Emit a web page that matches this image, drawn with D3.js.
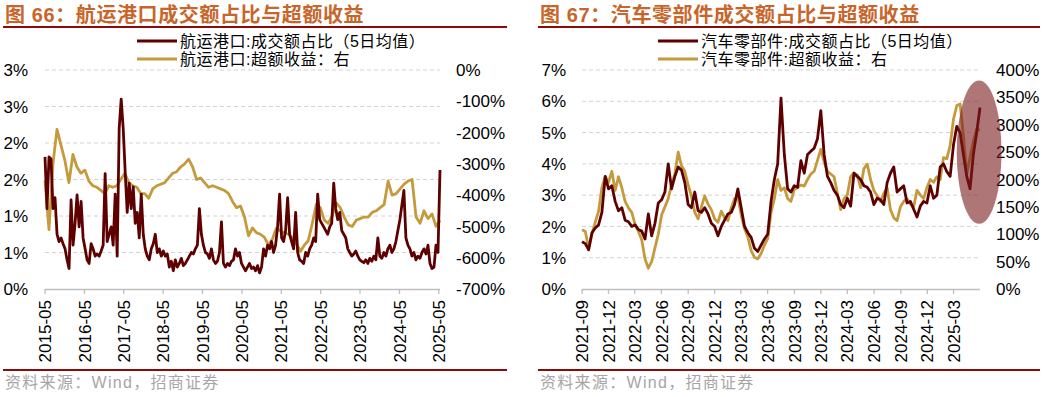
<!DOCTYPE html>
<html><head><meta charset="utf-8">
<script src="https://cdn.jsdelivr.net/npm/d3@7/dist/d3.min.js"></script>
<style>body{margin:0;background:#fff;} svg{display:block;}</style>
</head><body>
<svg id="chart" width="1060" height="397"></svg>
<script>
// ---------------- DATA ----------------
// Panel 1: shipping & ports
const shipTitle = "图 66：航运港口成交额占比与超额收益";
const shipLegend = ["航运港口:成交额占比（5日均值）", "航运港口:超额收益：右"];
const shipStart = "2015-05-01";
const shipEnd = "2025-05-12";
const shipXTickLabels = ["2015-05","2016-05","2017-05","2018-05","2019-05","2020-05","2021-05","2022-05","2023-05","2024-05","2025-05"];
const shipLeftTicks = [0, 0.5, 1, 1.5, 2, 2.5, 3];
const shipLeftTickLabels = ["0%","1%","1%","2%","2%","3%","3%"];
const shipRightTicks = [0, -100, -200, -300, -400, -500, -600, -700];
const shipRightTickLabels = ["0%","-100%","-200%","-300%","-400%","-500%","-600%","-700%"];
// turnover share (%), evenly spaced samples from shipStart to shipEnd
const shipTurnover = [
1.81,1.10,1.81,1.78,1.10,1.25,0.75,0.65,0.70,0.62,
0.55,0.40,0.28,1.22,0.60,0.90,1.29,0.85,1.20,0.70,
0.55,0.40,0.35,0.62,0.55,0.45,0.48,0.45,0.52,0.60,
1.58,0.65,0.75,0.85,0.60,1.30,0.45,2.20,2.60,2.20,
1.60,1.05,1.45,1.10,1.40,0.90,1.05,0.70,1.30,0.75,
0.55,0.45,0.40,0.55,0.62,0.75,0.50,0.55,0.45,0.52,
0.45,0.48,0.30,0.38,0.25,0.40,0.30,0.35,0.42,0.32,
0.35,0.40,0.45,0.50,0.48,0.55,0.60,1.10,0.75,0.60,
0.50,0.48,0.42,0.55,0.40,0.35,0.38,0.50,0.92,0.35,
0.30,0.35,0.32,0.38,0.40,0.55,0.45,0.50,0.35,0.30,
0.25,0.30,0.35,0.28,0.30,0.25,0.32,0.22,0.30,0.55,
0.45,0.60,0.55,0.65,0.50,0.60,0.85,1.30,0.70,0.65,
0.80,1.25,0.75,0.65,0.55,1.05,0.50,0.40,0.38,0.35,
0.50,0.45,0.55,0.60,0.70,0.65,1.30,0.95,0.90,0.85,
0.80,0.75,0.85,0.90,1.45,1.10,0.95,1.05,0.80,0.75,
0.70,0.55,0.50,0.45,0.48,0.52,0.45,0.40,0.38,0.36,
0.40,0.35,0.42,0.38,0.45,0.40,0.70,0.45,0.42,0.50,
0.45,0.55,0.60,0.50,0.55,0.65,0.80,0.95,1.15,1.35,
0.70,0.60,0.55,0.45,0.50,0.40,0.45,0.42,0.50,0.55,
0.48,0.60,0.35,0.28,0.30,0.60,0.50,1.63];
// excess return (%), right axis
const shipExcess = [
-353,-510,-300,-190,-240,-290,-360,-270,-310,-330,
-320,-355,-370,-375,-385,-395,-370,-375,-370,-350,
-330,-360,-370,-375,-395,-395,-410,-380,-370,-365,
-360,-345,-330,-325,-310,-300,-285,-310,-350,-345,
-360,-375,-370,-375,-380,-385,-395,-420,-440,-435,
-470,-530,-505,-520,-525,-535,-560,-540,-505,-515,
-520,-525,-535,-555,-580,-560,-545,-490,-430,-440,
-480,-490,-465,-425,-440,-470,-495,-500,-480,-475,
-470,-470,-455,-450,-440,-430,-355,-400,-395,-380,
-365,-355,-350,-470,-490,-450,-475,-460,-500,-480];

// Panel 2: auto parts
const autoTitle = "图 67：汽车零部件成交额占比与超额收益";
const autoLegend = ["汽车零部件:成交额占比（5日均值）", "汽车零部件:超额收益：右"];
const autoStart = "2021-09-01";
const autoEnd = "2025-05-31";
const autoXTickLabels = ["2021-09","2021-12","2022-03","2022-06","2022-09","2022-12","2023-03","2023-06","2023-09","2023-12","2024-03","2024-06","2024-09","2024-12","2025-03"];
const autoLeftTicks = [0,1,2,3,4,5,6,7];
const autoLeftTickLabels = ["0%","1%","2%","3%","4%","5%","6%","7%"];
const autoRightTicks = [0,50,100,150,200,250,300,350,400];
const autoRightTickLabels = ["0%","50%","100%","150%","200%","250%","300%","350%","400%"];
const autoTurnover = [
1.51,1.45,1.25,1.80,1.95,2.05,2.45,3.60,3.20,3.30,
2.80,2.50,2.60,2.20,2.15,2.00,2.05,1.90,1.85,1.60,
2.40,1.70,2.10,2.75,2.85,3.10,4.00,3.20,3.60,3.90,
3.80,3.40,2.70,2.60,3.10,2.50,2.45,2.60,2.40,2.10,
2.00,1.70,2.00,2.20,2.40,2.45,2.70,3.20,2.60,2.00,
1.80,1.65,1.30,1.20,1.40,1.60,1.75,2.80,3.50,4.00,
6.10,4.30,3.20,3.10,3.30,3.25,4.10,3.70,4.30,4.40,
4.50,4.80,5.70,4.30,3.60,3.40,3.15,3.00,2.70,2.60,
2.90,2.65,3.70,3.60,3.50,3.30,3.25,3.10,2.70,2.90,
2.85,2.70,3.40,3.70,3.90,3.10,3.20,3.30,2.75,2.80,
2.55,2.30,2.65,2.80,2.75,3.30,2.90,3.00,3.90,4.00,
3.75,3.60,4.60,5.20,5.00,4.30,3.60,3.20,4.30,5.00,5.80];
const autoExcess = [
108,105,75,100,122,142,185,205,195,215,
180,205,185,160,148,140,118,105,90,55,
38,50,75,100,135,150,165,190,210,250,
225,215,190,170,140,128,150,170,155,145,
128,122,142,130,125,148,165,168,135,110,
95,70,58,55,65,80,92,140,165,200,
180,185,165,160,182,185,190,188,200,210,
215,235,255,232,215,210,205,175,145,165,
172,205,212,208,185,220,228,200,180,170,
160,175,185,145,130,125,150,160,165,155,
150,180,172,165,185,200,195,205,200,240,
238,262,310,335,338,280,210,240,270,292,290];
// highlight annotation (date range & right-axis range)
const autoHighlight = {from: "2025-03-12", to: "2025-08-13", low: 119, high: 381};

// ---------------- DRAW ----------------
const svg = d3.select("#chart");
const C = {
  title: "#C8652A", rule: "#8B0A0A", red: "#5E0000", gold: "#C49A3C",
  grid: "#D3D3D3", axis: "#BFBFBF", text: "#000", src: "#A6A6A6"
};
const LATIN = "'Liberation Sans', Arial, 'Noto Sans CJK SC', sans-serif";
const parseDay = d3.timeParse("%Y-%m-%d");
const parseMonth = d3.timeParse("%Y-%m");

function evenDates(start, end, n) {
  const a = parseDay(start).getTime(), b = parseDay(end).getTime();
  return d3.range(n).map(i => new Date(a + (b - a) * i / (n - 1)));
}

function panel(o) {
  const g = svg.append("g");
  // title
  g.append("text").attr("x", o.ox + 5).attr("y", 22)
    .attr("font-family", LATIN).attr("font-weight", "bold")
    .attr("font-size", 20).attr("letter-spacing", 0.6)
    .attr("fill", C.title).text(o.title);
  g.append("line").attr("x1", o.ox + 3).attr("x2", o.ox + o.ruleW)
    .attr("y1", 27).attr("y2", 27).attr("stroke", C.rule).attr("stroke-width", 2);
  g.append("line").attr("x1", o.ox + 3).attr("x2", o.ox + o.ruleW)
    .attr("y1", 370).attr("y2", 370).attr("stroke", C.rule).attr("stroke-width", 2);
  g.append("text").attr("x", o.ox + 5).attr("y", 388)
    .attr("font-family", LATIN).attr("font-size", 16).attr("letter-spacing", 1.3)
    .attr("fill", C.src).text("资料来源：Wind，招商证券");

  const x = d3.scaleTime().domain([parseDay(o.start), parseDay(o.end)]).range([o.x0, o.x1]);
  const yL = d3.scaleLinear().domain(d3.extent(o.leftTicks)).range([289, 70]);
  const yR = d3.scaleLinear().domain(d3.extent(o.rightTicks)).range([289, 70]);

  // grid
  g.append("g").selectAll("line").data(o.leftTicks.filter(t => t !== 0)).join("line")
    .attr("x1", o.x0).attr("x2", o.x1)
    .attr("y1", d => yL(d)).attr("y2", d => yL(d))
    .attr("stroke", C.grid).attr("stroke-dasharray", "4,3").attr("stroke-width", 1);
  // x axis line
  g.append("line").attr("x1", o.x0).attr("x2", o.x1).attr("y1", 289.5).attr("y2", 289.5)
    .attr("stroke", C.axis).attr("stroke-width", 1.3);
  const xt = o.xTicks.map(s => parseMonth(s));
  g.append("g").selectAll("line").data(xt).join("line")
    .attr("x1", d => x(d)).attr("x2", d => x(d)).attr("y1", 289).attr("y2", 294)
    .attr("stroke", C.axis).attr("stroke-width", 1.3);
  g.append("g").selectAll("text").data(o.xTicks).join("text")
    .attr("transform", d => `translate(${x(parseMonth(d))},300) rotate(-90)`)
    .attr("text-anchor", "end").attr("dy", "0.36em")
    .attr("font-family", LATIN).attr("font-size", 17).attr("fill", C.text)
    .text(d => d);
  // y labels
  g.append("g").selectAll("text").data(o.leftTicks).join("text")
    .attr("x", o.lx).attr("y", d => yL(d)).attr("dy", "0.36em").attr("text-anchor", "end")
    .attr("font-family", LATIN).attr("font-size", 17).attr("fill", C.text)
    .text((d, i) => o.leftLabels[i]);
  g.append("g").selectAll("text").data(o.rightTicks).join("text")
    .attr("x", o.rx).attr("y", d => yR(d)).attr("dy", "0.36em").attr("text-anchor", "start")
    .attr("font-family", LATIN).attr("font-size", 17).attr("fill", C.text)
    .text((d, i) => o.rightLabels[i]);

  // lines
  const d1 = evenDates(o.start, o.end, o.turnover.length);
  const d2 = evenDates(o.start, o.end, o.excess.length);
  g.append("path").datum(o.excess.map((v, i) => [d2[i], v]))
    .attr("fill", "none").attr("stroke", C.gold).attr("stroke-width", 2.8).attr("stroke-linejoin", "round")
    .attr("d", d3.line().x(d => x(d[0])).y(d => yR(d[1])));
  g.append("path").datum(o.turnover.map((v, i) => [d1[i], v]))
    .attr("fill", "none").attr("stroke", C.red).attr("stroke-width", 2.8).attr("stroke-linejoin", "round")
    .attr("d", d3.line().x(d => x(d[0])).y(d => yL(d[1])));

  // legend
  o.legend.forEach((txt, i) => {
    const ly = 41 + i * 18;
    g.append("line").attr("x1", o.legX).attr("x2", o.legX + 40).attr("y1", ly).attr("y2", ly)
      .attr("stroke", i === 0 ? C.red : C.gold).attr("stroke-width", 3);
    g.append("text").attr("x", o.legX + 43).attr("y", ly).attr("dy", "0.36em")
      .attr("font-family", LATIN).attr("font-size", 16).attr("letter-spacing", 0.5)
      .attr("fill", C.text).text(txt);
  });

  if (o.highlight) {
    const h = o.highlight;
    const xa = x(parseDay(h.from)), xb = x(parseDay(h.to));
    const ya = yR(h.high), yb = yR(h.low);
    g.append("ellipse").attr("cx", (xa + xb) / 2).attr("cy", (ya + yb) / 2)
      .attr("rx", (xb - xa) / 2).attr("ry", (yb - ya) / 2)
      .attr("fill", "#7A1A1E").attr("fill-opacity", 0.6);
  }
}

panel({
  ox: 0, ruleW: 507, title: shipTitle, legend: shipLegend, legX: 137,
  start: shipStart, end: shipEnd, x0: 45, x1: 440, lx: 28, rx: 456,
  xTicks: shipXTickLabels, leftTicks: shipLeftTicks, leftLabels: shipLeftTickLabels,
  rightTicks: shipRightTicks, rightLabels: shipRightTickLabels,
  turnover: shipTurnover, excess: shipExcess
});
panel({
  ox: 535, ruleW: 505, title: autoTitle, legend: autoLegend, legX: 658,
  start: autoStart, end: autoEnd, x0: 582, x1: 980, lx: 566, rx: 996,
  xTicks: autoXTickLabels, leftTicks: autoLeftTicks, leftLabels: autoLeftTickLabels,
  rightTicks: autoRightTicks, rightLabels: autoRightTickLabels,
  turnover: autoTurnover, excess: autoExcess, highlight: autoHighlight
});
</script>
</body></html>
